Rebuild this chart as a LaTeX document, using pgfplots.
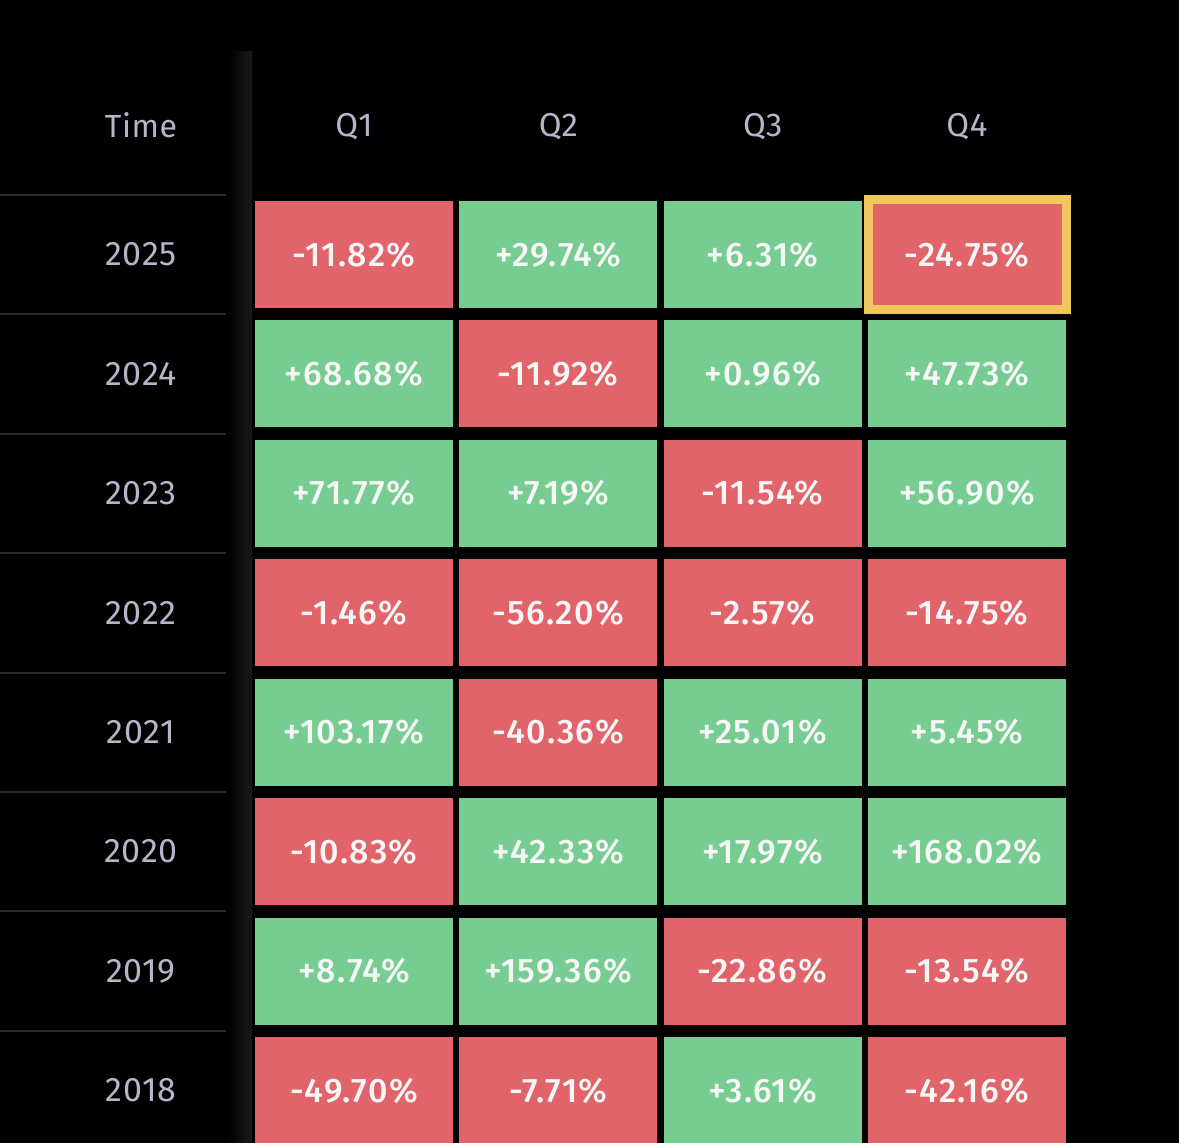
\documentclass[border=0pt]{standalone}
\usepackage{fontspec}
\setmainfont{Fira Sans}
\newfontfamily\cellfont{Fira Sans}[UprightFont={* Medium}, LetterSpace=4]
\newfontfamily\labfont{Fira Sans}[LetterSpace=2]
\usepackage{pgfplots}
\usepackage{pgfplotstable}
\pgfplotsset{compat=1.18}

\definecolor{cred}{HTML}{E06469}
\definecolor{cgreen}{HTML}{77CD91}
\definecolor{cyell}{HTML}{F0C85B}
\definecolor{clab}{HTML}{B6B5CA}
\definecolor{ctxt}{HTML}{F7F7F7}
\definecolor{csep}{HTML}{2A2A2A}

% cell = 198x107 px, 1px = 0.5pt
\pgfdeclareplotmark{cell}{\pgfpathrectangle{\pgfpoint{-49.5pt}{-26.75pt}}{\pgfpoint{99pt}{53.5pt}}\pgfusepathqfill}
\pgfdeclareplotmark{hilite}{\pgfsetlinewidth{4.5pt}\pgfpathrectangle{\pgfpoint{-49.5pt}{-27.5pt}}{\pgfpoint{99pt}{55pt}}\pgfusepathqstroke}

% col: 0=Q1..3=Q4, row: 0=2025..7=2018
\pgfplotstableread{
col row v
0 0 -11.82
1 0 29.74
2 0 6.31
3 0 -24.75
0 1 68.68
1 1 -11.92
2 1 0.96
3 1 47.73
0 2 71.77
1 2 7.19
2 2 -11.54
3 2 56.90
0 3 -1.46
1 3 -56.20
2 3 -2.57
3 3 -14.75
0 4 103.17
1 4 -40.36
2 4 25.01
3 4 5.45
0 5 -10.83
1 5 42.33
2 5 17.97
3 5 168.02
0 6 8.74
1 6 159.36
2 6 -22.86
3 6 -13.54
0 7 -49.70
1 7 -7.71
2 7 3.61
3 7 -42.16
}\quarterly

\begin{document}
\begin{tikzpicture}
\useasboundingbox (0,0) rectangle (589.5pt,571.5pt);
\fill[black] (0,0) rectangle (589.5pt,571.5pt);
\begin{axis}[
    at={(0,0)}, anchor=south west,
    width=589.5pt, height=571.5pt, scale only axis,
    xmin=-1.7325, xmax=4.0376,
    ymin=-2.131, ymax=7.4396,
    y dir=reverse,
    axis line style={draw=none},
    tick style={draw=none},
    clip=false,
    xtick={0,1,2,3},
    xticklabels={Q1,Q2,Q3,Q4},
    xticklabel pos=upper,
    xticklabel style={anchor=center, text=clab, font=\labfont\fontsize{16.5}{18}\selectfont, yshift=-63.5pt},
    ytick={0,...,7},
    yticklabels={2025,2024,2023,2022,2021,2020,2019,2018},
    yticklabel style={anchor=center, text=clab, font=\labfont\fontsize{17}{19}\selectfont, xshift=70.5pt},
    nodes near coords={\pgfmathprintnumber[fixed,fixed zerofill,precision=2,showpos,assume math mode=true]{\pgfplotspointmeta}\%},
    every node near coord/.append style={anchor=center, text=ctxt, font=\cellfont\fontsize{17}{19}\selectfont},
]

% left column shadow band and row separators
\shade[left color=black, right color=black!90!white]
    (axis cs:-0.6167,-1.6956) rectangle (axis cs:-0.4992,7.4396);
\pgfplotsinvokeforeach{-0.5,0.5,1.5,2.5,3.5,4.5,5.5,6.5}{
  \draw[csep, line width=1pt] (axis cs:-1.7325,#1) -- (axis cs:-0.6264,#1);
}
\node[text=clab, font=\labfont\fontsize{16}{18}\selectfont] at (axis cs:-1.0424,-1.0843) {Time};

% negative quarters
\addplot[only marks, mark=cell, mark options={fill=cred, draw=none},
    point meta=explicit,
    restrict expr to domain={\thisrow{v}}{-1000:0}]
    table[x=col, y=row, meta=v] {\quarterly};
% positive quarters
\addplot[only marks, mark=cell, mark options={fill=cgreen, draw=none},
    point meta=explicit,
    restrict expr to domain={\thisrow{v}}{0:1000}]
    table[x=col, y=row, meta=v] {\quarterly};
% current quarter highlight
\addplot[only marks, mark=hilite, mark options={draw=cyell, fill=none},
    nodes near coords={}]
    coordinates {(3,0)};
\end{axis}
\end{tikzpicture}
\end{document}
